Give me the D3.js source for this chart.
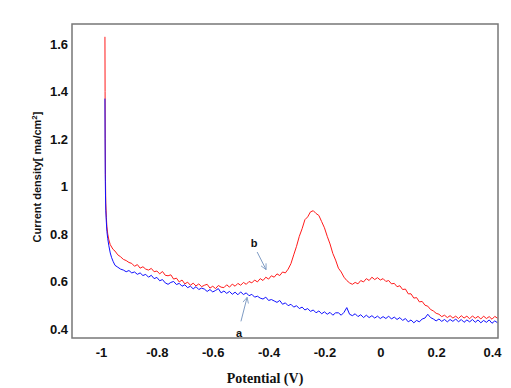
<!DOCTYPE html>
<html>
<head>
<style>
  body {
    background-color: white;
    margin: 0px;
  }
  text {
    fill: #111;
  }
</style>
<script src="https://d3js.org/d3.v7.min.js"></script>
</head>
<body>
<svg></svg>
<script>
const width = 511,
    height = 388;

// sweep start (cathodic spike)
const spikeV = [-0.986, -0.9855, -0.985, -0.984, -0.983, -0.981, -0.979, -0.976, -0.972, -0.967, -0.962, -0.957];
const spikeRed = [1.63, 1.40, 1.20, 1.02, 0.93, 0.87, 0.83, 0.80, 0.775, 0.755, 0.745, 0.735];
const spikeBlue = [1.37, 1.20, 1.05, 0.96, 0.90, 0.85, 0.81, 0.78, 0.75, 0.72, 0.70, 0.685];

// rest of the sweep
const potential = [
  -0.95, -0.94, -0.93, -0.92, -0.91, -0.90, -0.89, -0.88, -0.87, -0.86,
  -0.85, -0.84, -0.83, -0.82, -0.81, -0.80, -0.79, -0.78, -0.77, -0.76,
  -0.75, -0.74, -0.73, -0.72, -0.71, -0.70, -0.69, -0.68, -0.67, -0.66,
  -0.65, -0.64, -0.63, -0.62, -0.61, -0.60, -0.59, -0.58, -0.57, -0.56,
  -0.55, -0.54, -0.53, -0.52, -0.51, -0.50, -0.49, -0.48, -0.47, -0.46,
  -0.45, -0.44, -0.43, -0.42, -0.41, -0.40, -0.39, -0.38, -0.37, -0.36,
  -0.35, -0.34, -0.33, -0.32, -0.31, -0.30, -0.29, -0.28, -0.27, -0.26,
  -0.25, -0.24, -0.23, -0.22, -0.21, -0.20, -0.19, -0.18, -0.17, -0.16,
  -0.15, -0.14, -0.13, -0.12, -0.11, -0.10, -0.09, -0.08, -0.07, -0.06,
  -0.05, -0.04, -0.03, -0.02, -0.01, 0.00, 0.01, 0.02, 0.03, 0.04,
  0.05, 0.06, 0.07, 0.08, 0.09, 0.10, 0.11, 0.12, 0.13, 0.14,
  0.15, 0.16, 0.17, 0.18, 0.19, 0.20, 0.21, 0.22, 0.23, 0.24,
  0.25, 0.26, 0.27, 0.28, 0.29, 0.30, 0.31, 0.32, 0.33, 0.34,
  0.35, 0.36, 0.37, 0.38, 0.39, 0.40, 0.41, 0.42
];

// curve b (red)
const currentB = [
  0.728, 0.712, 0.704, 0.693, 0.688, 0.680, 0.676, 0.664, 0.671, 0.656,
  0.662, 0.652, 0.648, 0.655, 0.641, 0.644, 0.632, 0.642, 0.626, 0.624,
  0.628, 0.610, 0.614, 0.598, 0.606, 0.590, 0.597, 0.584, 0.593, 0.581,
  0.590, 0.578, 0.584, 0.588, 0.572, 0.580, 0.570, 0.583, 0.576, 0.574,
  0.586, 0.576, 0.589, 0.580, 0.592, 0.584, 0.596, 0.588, 0.600, 0.594,
  0.606, 0.598, 0.612, 0.604, 0.618, 0.610, 0.624, 0.618, 0.632, 0.625,
  0.640, 0.636, 0.652, 0.675, 0.712, 0.748, 0.790, 0.822, 0.860, 0.872,
  0.893, 0.898, 0.886, 0.878, 0.852, 0.826, 0.790, 0.758, 0.718, 0.690,
  0.656, 0.640, 0.618, 0.604, 0.594, 0.588, 0.596, 0.590, 0.604, 0.598,
  0.612, 0.604, 0.618, 0.608, 0.616, 0.606, 0.612, 0.600, 0.604, 0.590,
  0.592, 0.578, 0.582, 0.566, 0.568, 0.548, 0.548, 0.530, 0.532, 0.514,
  0.516, 0.500, 0.496, 0.482, 0.476, 0.466, 0.462, 0.452, 0.458, 0.448,
  0.456, 0.446, 0.454, 0.444, 0.456, 0.446, 0.454, 0.443, 0.455, 0.445,
  0.453, 0.442, 0.454, 0.444, 0.452, 0.441, 0.453, 0.445
];

// curve a (blue)
const currentA = [
  0.668, 0.660, 0.652, 0.648, 0.641, 0.646, 0.636, 0.640, 0.630, 0.636,
  0.625, 0.630, 0.618, 0.626, 0.612, 0.617, 0.603, 0.608, 0.594, 0.588,
  0.596, 0.600, 0.587, 0.592, 0.580, 0.586, 0.574, 0.580, 0.569, 0.578,
  0.566, 0.572, 0.568, 0.558, 0.566, 0.556, 0.562, 0.570, 0.552, 0.560,
  0.550, 0.558, 0.546, 0.555, 0.544, 0.556, 0.545, 0.552, 0.540, 0.546,
  0.534, 0.538, 0.530, 0.526, 0.534, 0.520, 0.524, 0.518, 0.512, 0.520,
  0.504, 0.510, 0.498, 0.504, 0.492, 0.498, 0.486, 0.492, 0.480, 0.486,
  0.474, 0.480, 0.468, 0.476, 0.464, 0.472, 0.462, 0.470, 0.458, 0.468,
  0.468, 0.458, 0.470, 0.490, 0.462, 0.456, 0.464, 0.452, 0.460, 0.448,
  0.458, 0.448, 0.456, 0.446, 0.454, 0.444, 0.452, 0.444, 0.454, 0.442,
  0.450, 0.440, 0.448, 0.436, 0.444, 0.430, 0.438, 0.426, 0.436, 0.430,
  0.442, 0.446, 0.462, 0.448, 0.442, 0.434, 0.442, 0.432, 0.440, 0.430,
  0.440, 0.432, 0.442, 0.430, 0.440, 0.428, 0.438, 0.430, 0.440, 0.428,
  0.438, 0.426, 0.436, 0.428, 0.438, 0.424, 0.434, 0.426
];

const xTicks = [-1, -0.8, -0.6, -0.4, -0.2, 0, 0.2, 0.4];
const yTicks = [0.4, 0.6, 0.8, 1, 1.2, 1.4, 1.6];

// label text, label position, arrow tail, arrow tip (data units)
const notes = [
  {text: "b", label: [-0.452, 0.762], from: [-0.441, 0.724], to: [-0.409, 0.650]},
  {text: "a", label: [-0.506, 0.383], from: [-0.499, 0.432], to: [-0.477, 0.533]}
];

const plotLeft = 72, plotTop = 24, plotRight = 498, plotBottom = 338;

const svg = d3.select("svg")
    .attr("width", width)
    .attr("height", height)
    .style("font-family", "'Liberation Sans', Arial, sans-serif");

const x = d3.scaleLinear().domain([-1.104, 0.4215]).range([plotLeft, plotRight]);
const y = d3.scaleLinear().domain([0.362, 1.684]).range([plotBottom, plotTop]);

const line = d3.line()
    .x(function(d) {return x(d[0])})
    .y(function(d) {return y(d[1])});

const seriesB = spikeV.map(function(v, i) {return [v, spikeRed[i]]})
    .concat(potential.map(function(v, i) {return [v, currentB[i]]}));
const seriesA = spikeV.map(function(v, i) {return [v, spikeBlue[i]]})
    .concat(potential.map(function(v, i) {return [v, currentA[i]]}));

svg.append("path")
    .datum(seriesB)
    .attr("d", line)
    .attr("fill", "none")
    .attr("stroke", "#ff1a1a")
    .attr("stroke-width", 1);

svg.append("path")
    .datum(seriesA)
    .attr("d", line)
    .attr("fill", "none")
    .attr("stroke", "#1010ff")
    .attr("stroke-width", 1);

// frame
svg.append("rect")
    .attr("x", plotLeft)
    .attr("y", plotTop)
    .attr("width", plotRight - plotLeft)
    .attr("height", plotBottom - plotTop)
    .attr("fill", "none")
    .attr("stroke", "#777")
    .attr("stroke-width", 1.5);

const xAxis = svg.append("g")
    .attr("transform", "translate(0," + plotBottom + ")")
    .call(d3.axisBottom(x).tickValues(xTicks).tickSize(0).tickPadding(10)
      .tickFormat(function(d) {return d3.format("")(d).replace("−", "-")}));
xAxis.select(".domain").remove();
xAxis.selectAll("text")
    .style("font-size", "13px")
    .style("font-weight", "bold")
    .attr("fill", "#111");

const yAxis = svg.append("g")
    .attr("transform", "translate(" + plotLeft + ",0)")
    .call(d3.axisLeft(y).tickValues(yTicks).tickSize(0).tickPadding(4)
      .tickFormat(function(d) {return d3.format("")(d)}));
yAxis.select(".domain").remove();
yAxis.selectAll("text")
    .style("font-size", "13px")
    .style("font-weight", "bold")
    .attr("fill", "#111");

// axis titles
svg.append("text")
    .attr("x", 265)
    .attr("y", 383)
    .attr("text-anchor", "middle")
    .style("font-family", "'Liberation Serif', 'Times New Roman', serif")
    .style("font-size", "14px")
    .style("font-weight", "bold")
    .text("Potential (V)");

const yTitle = svg.append("text")
    .attr("transform", "translate(41,177) rotate(-90)")
    .attr("text-anchor", "middle")
    .style("font-size", "11px")
    .style("font-weight", "bold");
yTitle.append("tspan").text("Current density[ ma/cm");
yTitle.append("tspan").attr("dy", -4).style("font-size", "8px").text("2");
yTitle.append("tspan").attr("dy", 4).text("]");

// curve labels with arrows
svg.append("defs").append("marker")
    .attr("id", "head")
    .attr("viewBox", "0 0 10 10")
    .attr("refX", 9)
    .attr("refY", 5)
    .attr("markerWidth", 7)
    .attr("markerHeight", 7)
    .attr("orient", "auto")
  .append("path")
    .attr("d", "M1,1 L9,5 L1,9")
    .attr("fill", "none")
    .attr("stroke", "#7f9cc4")
    .attr("stroke-width", 1.2);

notes.forEach(function(n) {
  svg.append("line")
      .attr("x1", x(n.from[0]))
      .attr("y1", y(n.from[1]))
      .attr("x2", x(n.to[0]))
      .attr("y2", y(n.to[1]))
      .attr("stroke", "#7f9cc4")
      .attr("stroke-width", 1)
      .attr("marker-end", "url(#head)");
  svg.append("text")
      .attr("x", x(n.label[0]))
      .attr("y", y(n.label[1]))
      .attr("dy", "0.35em")
      .attr("text-anchor", "middle")
      .style("font-size", "11px")
      .style("font-weight", "bold")
      .text(n.text);
});
</script>
</body>
</html>
